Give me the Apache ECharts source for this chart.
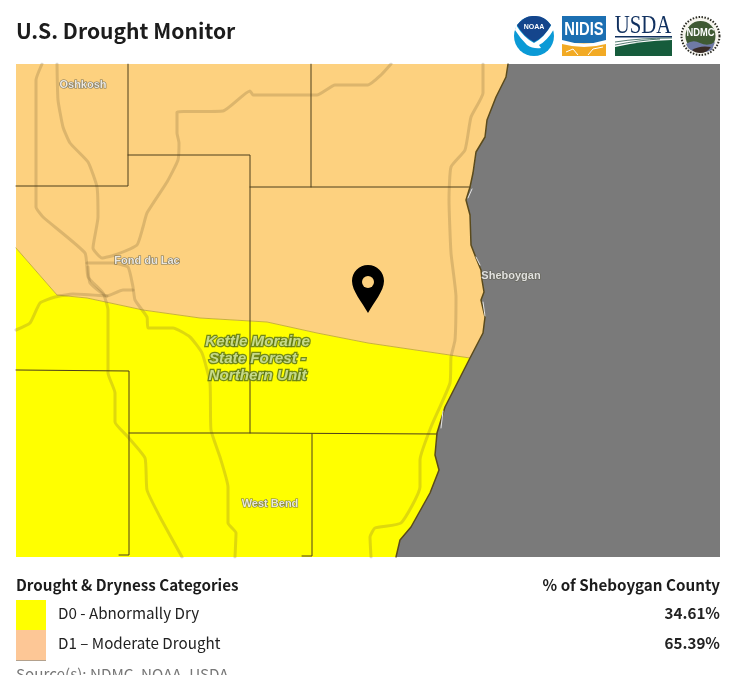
<!DOCTYPE html>
<html>
<head>
<meta charset="utf-8">
<title>U.S. Drought Monitor</title>
<script src="https://cdn.jsdelivr.net/npm/echarts@6/dist/echarts.min.js"></script>
<style>
  html, body { margin: 0; padding: 0; background: #fff; overflow: hidden; }
  #chart { width: 736px; height: 675px; }
</style>
</head>
<body>
<div id="chart"></div>
<script>
const coastline = [[508,64],[506,77],[496,97],[487,120],[485,137],[476,152],[473,173],[470,187],[466,200],[470,215],[471,245],[476,258],[481,270],[482,280],[484,292],[481,300],[485,317],[483,333],[470,358],[445,407],[441,420],[437,433],[435,455],[439,470],[430,493],[411,527],[400,540],[396,557]];
const droughtEdge = [[16,248],[57,295],[87,298],[143,310],[200,318],[267,322],[317,333],[368,343],[470,358]];
const d1Area = [[16,64],...coastline.slice(0, 19),...droughtEdge.slice().reverse()];
const d0Area = [...droughtEdge,...coastline.slice(19),[396,557],[16,557]];
const lakeArea = [...coastline,[720,557],[720,64]];

const countyLines = [
  [[128,64],[128,186],[16,186]],
  [[128,155],[250,155],[250,433]],
  [[311,64],[311,187]],
  [[250,187],[470,187]],
  [[16,370],[129,371],[129,555],[119,555]],
  [[129,433],[250,433],[437,434]],
  [[312,434],[312,556],[302,556]]
];
const roads = [
  [[42,64],[36,80],[36,207],[43,217],[85,253],[88,277],[103,293],[108,310],[108,373],[115,393],[115,422],[128,437],[145,458],[147,490],[160,517],[182,557]],
  [[57,64],[58,100],[63,127],[70,143],[88,162],[97,187],[98,217],[93,248],[102,258],[115,255],[137,245],[143,227],[147,213],[167,182],[178,160],[179,143],[177,133],[177,112],[223,111],[250,91],[253,95],[317,95],[335,85],[368,85],[381,75],[391,64]],
  [[87,263],[113,263],[128,267],[133,287],[135,300],[147,317],[148,328],[173,328],[190,337],[202,353],[210,383],[211,430],[220,457],[228,487],[228,523],[236,533],[235,557]],
  [[88,267],[90,283],[107,296],[123,290],[133,290]],
  [[16,330],[30,323],[40,303],[55,297],[73,294],[107,296]],
  [[483,64],[483,93],[471,117],[465,150],[451,167],[449,200],[451,253],[456,297],[455,340],[451,357],[450,383],[431,427],[420,460],[420,487],[401,523],[375,528],[370,537],[371,557]]
];
const shoreSlivers = [
  [[472,189],[468,198]],
  [[476,257],[480,265]],
  [[483,302],[485,316]],
  [[443,411],[441,428]]
];

const townNames = ['Oshkosh', 'Fond du Lac', 'Sheboygan', 'West Bend'];
const townPoints = [[83,85],[147,261],[511,276],[270,504]];
const forestName = 'Kettle Moraine\nState Forest -\nNorthern Unit';
const forestPoint = [257.500,359];
const pinPoint = [368,289];
const pinHolePoint = [368,282];

const categories = ['D0 - Abnormally Dry', 'D1 – Moderate Drought'];
const shares = ['34.61%', '65.39%'];
const categoryColors = ['#ffff00', '#fdc796'];

const FONT = '"Noto Sans CJK SC", "Noto Sans", sans-serif';
const PIN = 'path://M16 0C7 0 0 7.200 0 16C0 26 10 37 16 48C22 37 32 26 32 16C32 7.200 25 0 16 0Z';

const lineSeries = (points, color, width, z, smooth) => ({
  type: 'line',
  data: points,
  symbol: 'none',
  silent: true,
  animation: false,
  smooth: smooth || false,
  z,
  lineStyle: { color, width, join: 'round', cap: 'round' }
});

const areaSeries = (points, color, z) => ({
  type: 'custom',
  silent: true,
  animation: false,
  z,
  data: [0],
  renderItem: (params, api) => ({
    type: 'polygon',
    shape: { points: points.map(p => api.coord(p)) },
    style: { fill: color }
  })
});

const labelSeries = (name, point, label, z) => ({
  type: 'scatter',
  silent: true,
  animation: false,
  symbolSize: 0,
  z,
  data: [{ value: point, name }],
  label: { show: true, position: 'inside', formatter: '{b}', ...label }
});

const text = (t, x, y, size, weight, color, align) => ({
  type: 'text',
  x,
  y,
  style: {
    text: t,
    fontFamily: FONT,
    fontSize: size,
    fontWeight: weight,
    fill: color,
    textAlign: align || 'left',
    textVerticalAlign: 'middle'
  }
});

// the graphic component has no plain path type, so logo outlines get registered as shapes
let shapeCount = 0;
const outline = (d, style) => {
  const name = 'logoShape' + shapeCount++;
  echarts.graphic.registerShape(name, echarts.graphic.extendPath(d));
  return { type: name, style };
};

const logos = [
  // NOAA
  { type: 'circle', shape: { cx: 534, cy: 36, r: 20 }, style: { fill: '#0b9ad6' } },
  outline('M517 25Q525 15 534 16Q544 15 551 25Q546 36 534 42Q523 36 517 25Z', { fill: '#14458c' }),
  outline('M516 25Q524 38 534 43Q544 38 552 24L554 29Q547 41 539 45L541 48Q533 49 527 45Q520 38 515 30Z', { fill: '#fff' }),
  { type: 'text', x: 534, y: 27, style: { text: 'NOAA', fontFamily: 'Liberation Sans', fontSize: 7, fontWeight: 'bold', fill: '#fff', textAlign: 'center', textVerticalAlign: 'middle' } },
  // NIDIS
  { type: 'rect', shape: { x: 562, y: 16, width: 44, height: 27 }, style: { fill: '#1c6fb2' } },
  { type: 'rect', shape: { x: 562, y: 43, width: 44, height: 13 }, style: { fill: '#f2aa24' } },
  outline('M562 40Q584 47 606 40L606 44Q584 50 562 44Z', { fill: '#fff' }),
  outline('M566 52L573 49L578 55M588 55L593 49L603 47', { fill: 'none', stroke: '#fff', lineWidth: 1 }),
  { type: 'text', x: 584, y: 30, scaleX: 0.82, style: { text: 'NIDIS', fontFamily: 'Liberation Sans', fontSize: 18, fontWeight: 'bold', fill: '#fff', textAlign: 'center', textVerticalAlign: 'middle' } },
  // USDA
  { type: 'text', x: 643, y: 26, scaleX: 0.8, style: { text: 'USDA', fontFamily: 'Liberation Serif', fontSize: 26, fill: '#10305f', textAlign: 'center', textVerticalAlign: 'middle' } },
  { type: 'rect', shape: { x: 615, y: 36, width: 57, height: 1.500 }, style: { fill: '#10305f' } },
  outline('M615 47Q640 41 672 40L672 56L615 56Z', { fill: '#165c3c' }),
  outline('M615 42Q640 38 672 38M615 45Q640 40 660 39', { fill: 'none', stroke: '#2b5c4f', lineWidth: 0.800 }),
  // NDMC
  { type: 'circle', shape: { cx: 700.500, cy: 36, r: 19 }, style: { fill: '#f6f5ee', stroke: '#2a2a22', lineWidth: 2, lineDash: [1.500, 1.500] } },
  { type: 'circle', shape: { cx: 700.500, cy: 36, r: 15 }, style: { fill: '#3f5a33' } },
  outline('M686 44Q693 39 700 43Q708 47 715 42L712 50Q705 53 700 52Q692 52 688 48Z', { fill: '#6f7aa5' }),
  outline('M692 50Q700 45 711 47Q707 53 700 53Q695 53 692 50Z', { fill: '#3a2c26' }),
  { type: 'text', x: 700.500, y: 33, scaleX: 0.85, style: { text: 'NDMC', fontFamily: 'Liberation Sans', fontSize: 11, fontWeight: 'bold', fill: '#fff', textAlign: 'center', textVerticalAlign: 'middle' } }
];

const swatches = categories.map((c, i) => ({
  type: 'rect',
  shape: { x: 16, y: 600 + i * 30, width: 30, height: 30 },
  style: { fill: categoryColors[i] }
}));
const legendRows = categories.flatMap((c, i) => [
  text(c, 58, 613 + i * 30, 15.200, 'normal', '#222'),
  text(shares[i], 720, 613 + i * 30, 15.200, 'bold', '#222', 'right')
]);

const chart = echarts.init(document.getElementById('chart'));
chart.setOption({
  animation: false,
  backgroundColor: '#fff',
  grid: { left: 16, top: 64, width: 704, height: 493, containLabel: false },
  xAxis: { type: 'value', min: 16, max: 720, show: false },
  yAxis: { type: 'value', min: 64, max: 557, inverse: true, show: false },
  series: [
    areaSeries(d1Area, '#fdd17f', 1),
    areaSeries(d0Area, '#ffff00', 1),
    areaSeries(lakeArea, '#7a7a7a', 2),
    lineSeries(droughtEdge, '#c9b13a', 1, 3),
    ...roads.map(r => lineSeries(r, 'rgba(125,100,50,0.25)', 3, 4, 0.15)),
    ...countyLines.map(c => lineSeries(c, '#4d3f1c', 1, 5)),
    lineSeries(coastline, '#5a4a1c', 1.500, 6),
    ...shoreSlivers.map(s => lineSeries(s, '#e4e4e4', 1, 7)),
    ...townNames.map((n, i) => labelSeries(n, townPoints[i], {
      color: '#fff',
      fontFamily: 'Liberation Sans',
      fontSize: 11,
      fontWeight: 'bold',
      textBorderColor: '#5a5a4c',
      textBorderWidth: 1.200
    }, 8)),
    labelSeries(forestName, forestPoint, {
      color: '#dcefa8',
      fontFamily: 'Liberation Sans',
      fontSize: 15.200,
      fontWeight: 'bold',
      fontStyle: 'italic',
      lineHeight: 17,
      textBorderColor: '#4f6a1c',
      textBorderWidth: 2.500
    }, 8),
    {
      type: 'scatter',
      silent: true,
      animation: false,
      z: 9,
      symbol: PIN,
      symbolSize: [32, 48],
      itemStyle: { color: '#000', opacity: 1 },
      data: [pinPoint]
    },
    {
      type: 'scatter',
      silent: true,
      animation: false,
      z: 10,
      symbolSize: 12,
      itemStyle: { color: '#fdd17f', opacity: 1 },
      data: [pinHolePoint]
    }
  ],
  graphic: {
    elements: [
      text('U.S. Drought Monitor', 16, 31, 21.100, 'bold', '#1c1c1c'),
      ...logos,
      text('Drought & Dryness Categories', 16, 585, 15.200, 'bold', '#1c1c1c'),
      text('% of Sheboygan County', 720, 585, 15.200, 'bold', '#1c1c1c', 'right'),
      ...swatches,
      { type: 'rect', shape: { x: 16, y: 660, width: 30, height: 0.800 }, style: { fill: '#a08a70' } },
      ...legendRows,
      text('Source(s): NDMC, NOAA, USDA', 16, 674, 15.200, 'normal', '#777')
    ]
  }
});
</script>
</body>
</html>
